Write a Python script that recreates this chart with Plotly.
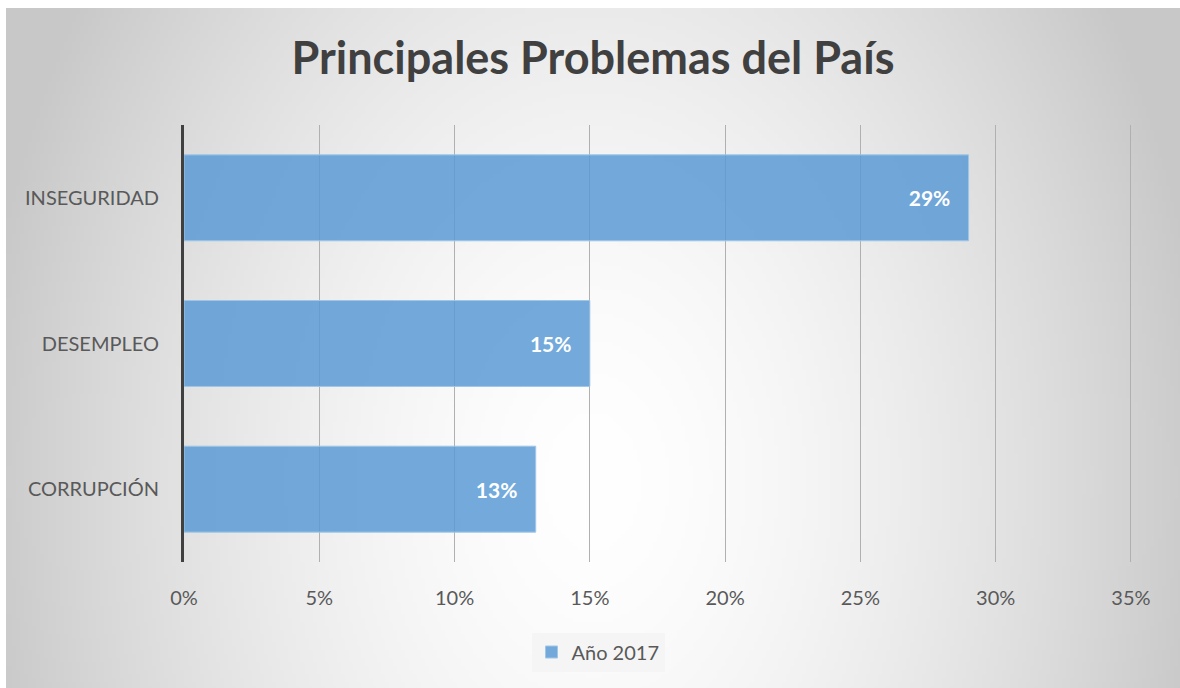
import base64, zlib, struct
import numpy as np
import plotly.graph_objects as go

categories = ["CORRUPCIÓN", "DESEMPLEO", "INSEGURIDAD"]
values = [13, 15, 29]
labels = ["13%", "15%", "29%"]
series_name = "Año 2017"
tick_vals = [0, 5, 10, 15, 20, 25, 30, 35]
tick_text = ["0%", "5%", "10%", "15%", "20%", "25%", "30%", "35%"]

W, H = 1180, 688
L, R, T, B = 184, 48, 125, 126
PW, PH = W - L - R, H - T - B

# radial gradient background as PNG data URI
def make_png(arr):
    h, w = arr.shape[:2]
    raw = b"".join(b"\x00" + arr[i].tobytes() for i in range(h))
    def chunk(t, d):
        c = struct.pack(">I", len(d)) + t + d
        return c + struct.pack(">I", zlib.crc32(t + d) & 0xffffffff)
    png = b"\x89PNG\r\n\x1a\n" + chunk(b"IHDR", struct.pack(">IIBBBBB", w, h, 8, 2, 0, 0, 0))
    png += chunk(b"IDAT", zlib.compress(raw, 9)) + chunk(b"IEND", b"")
    return "data:image/png;base64," + base64.b64encode(png).decode()

gx0, gy0, gw, gh = 6, 8, W - 6 + 20, H - 8 + 20
sc = 4
ys, xs = np.mgrid[0:gh // sc, 0:gw // sc]
px = gx0 + xs * sc
py = gy0 + ys * sc
d = np.sqrt(((px - 590) / 620.0) ** 2 + ((py - 480) / 880.0) ** 2)
d = np.clip(d, 0, 1) ** 1.6
v = (255 - 55 * d).astype(np.uint8)
img = np.stack([v, v, v], axis=-1)
uri = make_png(img)

pad = "\u00a0\u00a0\u00a0"
fig = go.Figure()
fig.add_trace(go.Bar(
    y=categories, x=values, orientation="h", name=series_name,
    text=[t + pad for t in labels], textposition="inside", insidetextanchor="end",
    textfont=dict(family="Lato", size=21, color="white", weight="bold"),
    marker=dict(color="rgba(91,155,213,0.85)", line=dict(color="rgba(160,198,232,1)", width=1)),
    width=0.59, showlegend=True,
))

fig.add_layout_image(dict(
    source=uri, xref="paper", yref="paper",
    x=(gx0 - L) / PW, y=(H - B - gy0) / PH,
    sizex=gw / PW, sizey=gh / PH,
    xanchor="left", yanchor="top", sizing="stretch", layer="below",
))

fig.update_layout(
    width=W, height=H,
    margin=dict(l=L, r=R, t=T, b=B),
    paper_bgcolor="white", plot_bgcolor="rgba(0,0,0,0)",
    title=dict(text="<b>Principales Problemas del País</b>", xref="container", yref="container",
               x=593 / W, y=1 - 58 / H, xanchor="center", yanchor="middle",
               font=dict(family="Lato", size=45, color="#404040")),
    font=dict(family="Lato", size=20, color="#595959"),
    xaxis=dict(range=[0, 35.04], tickvals=tick_vals, ticktext=tick_text,
               showgrid=True, gridcolor="#b0b0b0", gridwidth=1, zeroline=False,
               showline=False, ticks="outside", ticklen=18, tickcolor="rgba(0,0,0,0)",
               tickfont=dict(family="Lato", size=20, color="#595959"), fixedrange=True),
    yaxis=dict(showline=True, linecolor="#404040", linewidth=3, showgrid=False,
               ticks="outside", ticklen=18, tickcolor="rgba(0,0,0,0)",
               tickfont=dict(family="Lato", size=20, color="#595959")),
    legend=dict(orientation="h", x=(598 - L) / PW, y=(H - B - 652) / PH,
                xanchor="center", yanchor="middle", bgcolor="rgba(244,244,244,0.8)",
                itemwidth=30,
                font=dict(family="Lato", size=20, color="#595959")),
    bargap=0.41,
)

fig.write_html("out.html", config={"displayModeBar": False},
               post_script="document.body.style.margin='0';document.body.style.overflow='hidden';")
